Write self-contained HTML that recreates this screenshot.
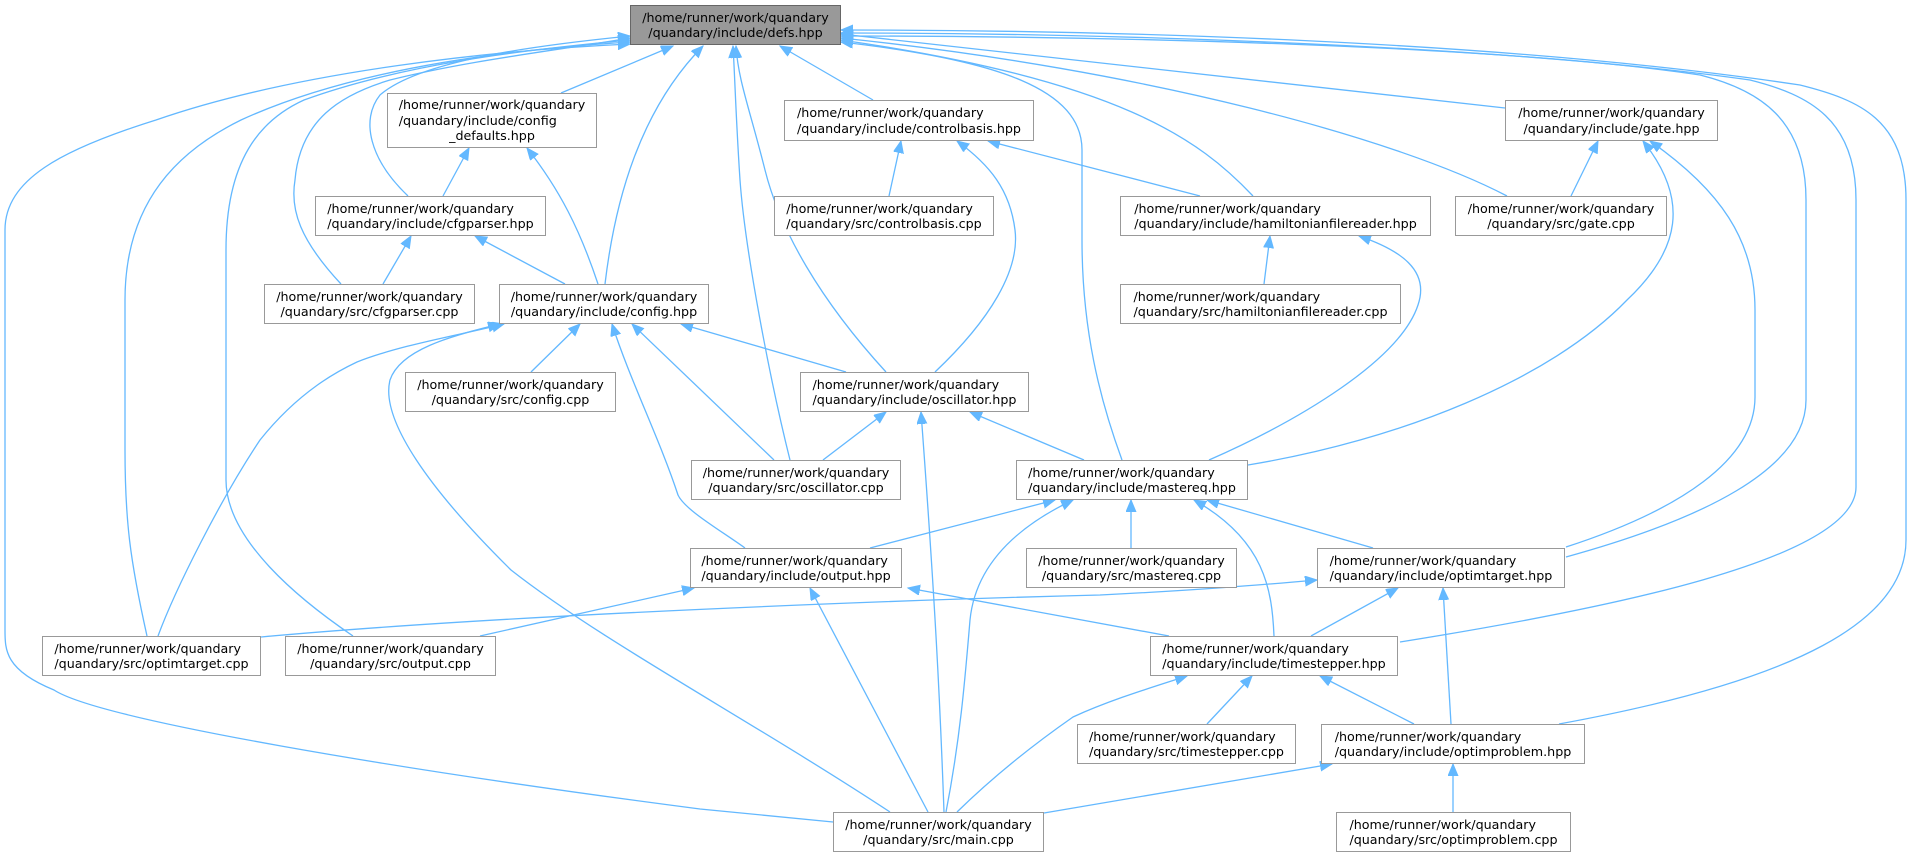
<!DOCTYPE html>
<html><head><meta charset="utf-8"><style>
html,body{margin:0;padding:0;background:#fff;}
#c{position:relative;width:1909px;height:857px;overflow:hidden;}
svg{position:absolute;left:0;top:0;}
.n{position:absolute;box-sizing:border-box;border:1.5px solid #999;background:#fff;display:flex;align-items:center;justify-content:center;font-family:"DejaVu Sans","Liberation Sans",sans-serif;font-size:12.7px;line-height:15.5px;color:#000;white-space:nowrap;}
.n>div{text-align:left;}
.n>div>span{display:block;}
.n>div>span:last-child{text-align:center;}
.d{background:#999;border-color:#666;}
</style></head><body><div id="c">
<svg width="1909" height="857" viewBox="0 0 1909 857">
<defs><marker id="a" markerUnits="userSpaceOnUse" markerWidth="14" markerHeight="12" refX="12" refY="5" orient="auto"><path d="M0,0 L12,5 L0,10 Z" fill="#63b8ff" stroke="#63b8ff"/></marker></defs>
<g fill="none" stroke="#63b8ff" stroke-width="1.3" marker-end="url(#a)">
<path d="M833,822 L700,809 C400,770 100,720 54,690 C5,670 5,650 5,630 L5,230 C5,180 60,150 156,120 C300,70 500,50 630,44"/>
<path d="M147,636 C130,560 125,520 125,450 L125,300 C125,200 180,150 241,120 C350,70 500,50 630,42"/>
<path d="M353,636 C300,600 226,540 226,480 L226,250 C226,160 260,120 304,100 C400,65 520,50 630,40"/>
<path d="M341,284 C300,240 290,210 295,180 C300,120 340,95 390,80 C470,60 560,50 630,38"/>
<path d="M408,196 C370,160 360,120 380,95 C420,60 540,45 630,36"/>
<path d="M561,93 L673,46"/>
<path d="M605,284 C615,200 640,110 703,46"/>
<path d="M790,460 C770,380 745,250 740,180 C736,120 735,80 733,46"/>
<path d="M886,372 C820,300 780,230 765,170 C750,110 738,80 736,46"/>
<path d="M873,100 L780,46"/>
<path d="M1122,460 C1100,400 1082,330 1082,240 L1082,150 C1082,90 1000,60 841,42"/>
<path d="M1253,196 C1200,140 1120,80 841,40"/>
<path d="M1507,196 C1400,140 1150,70 841,38"/>
<path d="M1505,108 L841,34"/>
<path d="M1566,557 C1700,520 1806,470 1806,400 L1806,200 C1806,120 1760,90 1700,75 C1500,45 1100,36 841,36"/>
<path d="M1400,642 C1600,610 1856,560 1856,487 L1856,200 C1856,120 1810,95 1750,80 C1500,45 1100,33 841,33"/>
<path d="M1559,724 C1800,680 1906,620 1906,540 L1906,200 C1906,120 1860,100 1800,85 C1500,40 1100,30 841,30"/>
<path d="M598,284 C580,230 560,190 527,148"/>
<path d="M443,196 L469,148"/>
<path d="M383,284 L411,236"/>
<path d="M565,284 L475,236"/>
<path d="M531,372 L580,324"/>
<path d="M158,636 C175,590 220,500 260,440 C300,390 340,370 357,362 C400,345 460,335 504,324"/>
<path d="M890,812 C750,720 600,640 511,570 C430,490 380,420 390,380 C400,350 450,336 500,324"/>
<path d="M745,548 C720,530 685,510 678,495 C660,440 630,380 612,324"/>
<path d="M774,460 L632,324"/>
<path d="M846,372 L681,324"/>
<path d="M889,196 L901,141"/>
<path d="M1200,196 L988,141"/>
<path d="M935,372 C990,320 1020,270 1015,230 C1010,190 990,165 957,141"/>
<path d="M1264,284 L1270,236"/>
<path d="M1209,460 C1300,420 1400,360 1418,305 C1430,270 1400,250 1359,236"/>
<path d="M1571,196 L1598,141"/>
<path d="M1248,465 C1400,440 1550,380 1627,300 C1680,250 1690,200 1643,141"/>
<path d="M1566,547 C1680,510 1755,460 1755,397 L1755,310 C1755,240 1720,190 1650,141"/>
<path d="M823,460 L886,412"/>
<path d="M944,812 C940,700 935,600 921,412"/>
<path d="M1084,460 L970,412"/>
<path d="M870,548 L1055,500"/>
<path d="M946,812 C960,740 965,680 970,620 C975,570 1010,530 1073,500"/>
<path d="M1131,548 L1131,500"/>
<path d="M1274,636 C1272,590 1265,540 1194,500"/>
<path d="M1373,548 L1207,500"/>
<path d="M480,636 L694,588"/>
<path d="M928,812 L810,588"/>
<path d="M1169,636 L908,588"/>
<path d="M261,637 C500,615 900,600 1100,595 C1200,590 1260,585 1317,580"/>
<path d="M1311,636 L1398,588"/>
<path d="M1451,724 L1443,588"/>
<path d="M1207,724 L1252,676"/>
<path d="M1414,724 L1320,676"/>
<path d="M957,812 C1000,770 1040,740 1073,717 C1110,700 1150,688 1187,676"/>
<path d="M1453,812 L1453,764"/>
<path d="M1044,813 L1332,764"/>
</g></svg>

<div class="n d" style="left:630px;top:5px;width:211px;height:40px"><div><span>/home/runner/work/quandary</span><span>/quandary/include/defs.hpp</span></div></div>
<div class="n" style="left:387px;top:93px;width:210px;height:55px"><div><span>/home/runner/work/quandary</span><span>/quandary/include/config</span><span>_defaults.hpp</span></div></div>
<div class="n" style="left:315px;top:196px;width:231px;height:40px"><div><span>/home/runner/work/quandary</span><span>/quandary/include/cfgparser.hpp</span></div></div>
<div class="n" style="left:264px;top:284px;width:211px;height:40px"><div><span>/home/runner/work/quandary</span><span>/quandary/src/cfgparser.cpp</span></div></div>
<div class="n" style="left:499px;top:284px;width:210px;height:40px"><div><span>/home/runner/work/quandary</span><span>/quandary/include/config.hpp</span></div></div>
<div class="n" style="left:405px;top:372px;width:211px;height:40px"><div><span>/home/runner/work/quandary</span><span>/quandary/src/config.cpp</span></div></div>
<div class="n" style="left:784px;top:100px;width:250px;height:41px"><div><span>/home/runner/work/quandary</span><span>/quandary/include/controlbasis.hpp</span></div></div>
<div class="n" style="left:774px;top:196px;width:220px;height:40px"><div><span>/home/runner/work/quandary</span><span>/quandary/src/controlbasis.cpp</span></div></div>
<div class="n" style="left:1120px;top:196px;width:311px;height:40px"><div><span>/home/runner/work/quandary</span><span>/quandary/include/hamiltonianfilereader.hpp</span></div></div>
<div class="n" style="left:1455px;top:196px;width:212px;height:40px"><div><span>/home/runner/work/quandary</span><span>/quandary/src/gate.cpp</span></div></div>
<div class="n" style="left:1505px;top:100px;width:213px;height:41px"><div><span>/home/runner/work/quandary</span><span>/quandary/include/gate.hpp</span></div></div>
<div class="n" style="left:1120px;top:284px;width:281px;height:40px"><div><span>/home/runner/work/quandary</span><span>/quandary/src/hamiltonianfilereader.cpp</span></div></div>
<div class="n" style="left:800px;top:372px;width:229px;height:40px"><div><span>/home/runner/work/quandary</span><span>/quandary/include/oscillator.hpp</span></div></div>
<div class="n" style="left:691px;top:460px;width:210px;height:40px"><div><span>/home/runner/work/quandary</span><span>/quandary/src/oscillator.cpp</span></div></div>
<div class="n" style="left:1016px;top:460px;width:232px;height:40px"><div><span>/home/runner/work/quandary</span><span>/quandary/include/mastereq.hpp</span></div></div>
<div class="n" style="left:690px;top:548px;width:212px;height:40px"><div><span>/home/runner/work/quandary</span><span>/quandary/include/output.hpp</span></div></div>
<div class="n" style="left:1026px;top:548px;width:211px;height:40px"><div><span>/home/runner/work/quandary</span><span>/quandary/src/mastereq.cpp</span></div></div>
<div class="n" style="left:1317px;top:548px;width:248px;height:40px"><div><span>/home/runner/work/quandary</span><span>/quandary/include/optimtarget.hpp</span></div></div>
<div class="n" style="left:42px;top:636px;width:219px;height:40px"><div><span>/home/runner/work/quandary</span><span>/quandary/src/optimtarget.cpp</span></div></div>
<div class="n" style="left:285px;top:636px;width:211px;height:40px"><div><span>/home/runner/work/quandary</span><span>/quandary/src/output.cpp</span></div></div>
<div class="n" style="left:1150px;top:636px;width:248px;height:40px"><div><span>/home/runner/work/quandary</span><span>/quandary/include/timestepper.hpp</span></div></div>
<div class="n" style="left:1077px;top:724px;width:219px;height:40px"><div><span>/home/runner/work/quandary</span><span>/quandary/src/timestepper.cpp</span></div></div>
<div class="n" style="left:1321px;top:724px;width:264px;height:40px"><div><span>/home/runner/work/quandary</span><span>/quandary/include/optimproblem.hpp</span></div></div>
<div class="n" style="left:833px;top:812px;width:211px;height:40px"><div><span>/home/runner/work/quandary</span><span>/quandary/src/main.cpp</span></div></div>
<div class="n" style="left:1336px;top:812px;width:235px;height:40px"><div><span>/home/runner/work/quandary</span><span>/quandary/src/optimproblem.cpp</span></div></div>
</div></body></html>
